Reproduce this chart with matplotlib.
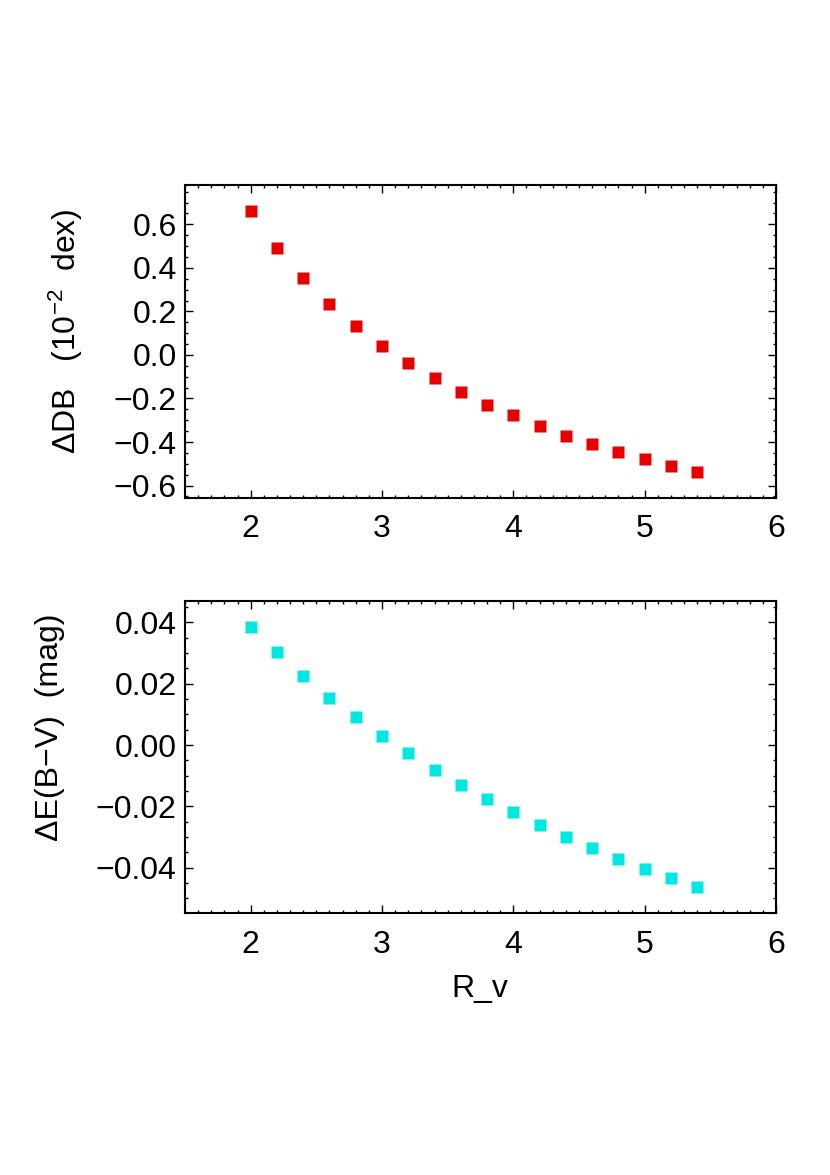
import matplotlib
matplotlib.use('Agg')
import matplotlib.pyplot as plt
import numpy as np
from matplotlib.ticker import MultipleLocator, FuncFormatter

plt.rcParams['font.family'] = ['Liberation Sans', 'DejaVu Sans']
plt.rcParams['mathtext.fontset'] = 'custom'
plt.rcParams['mathtext.rm'] = 'Liberation Sans'
plt.rcParams['mathtext.default'] = 'regular'

# data
r_v = [2.0, 2.2, 2.4, 2.6, 2.8, 3.0, 3.2, 3.4, 3.6, 3.8,
       4.0, 4.2, 4.4, 4.6, 4.8, 5.0, 5.2, 5.4]
d_db = [0.661, 0.493, 0.354, 0.234, 0.132, 0.042, -0.038, -0.108, -0.171,
        -0.228, -0.278, -0.326, -0.370, -0.409, -0.446, -0.477, -0.509, -0.536]
d_ebv = [0.0386, 0.0302, 0.0225, 0.0155, 0.0090, 0.0030, -0.0027, -0.0080,
         -0.0129, -0.0176, -0.0219, -0.0261, -0.0300, -0.0337, -0.0371,
         -0.0404, -0.0434, -0.0464]
x_ticks = [2, 3, 4, 5, 6]

FS = 23

fig = plt.figure(figsize=(8.3, 11.75), dpi=100)
ax1 = fig.add_axes([0.2229, 0.5764, 0.712, 0.2662])
ax2 = fig.add_axes([0.2229, 0.2227, 0.712, 0.2661])

def pad_range(v):
    lo, hi = min(v), max(v)
    d = 0.1 * (hi - lo)
    return lo - d, hi + d

def style(ax, ymaj, ymin_step, ndec):
    ax.set_xlim(1.5, 6.0)
    ax.set_xticks(x_ticks)
    ax.xaxis.set_minor_locator(MultipleLocator(0.1))
    ax.yaxis.set_major_locator(MultipleLocator(ymaj))
    ax.yaxis.set_minor_locator(MultipleLocator(ymin_step))
    fmt = lambda v, p: ('%.*f' % (ndec, 0.0 if abs(v) < 1e-9 else v)).replace('-', '\u2212')
    ax.yaxis.set_major_formatter(FuncFormatter(fmt))
    ax.tick_params(which='both', direction='in', top=True, right=True,
                   labelsize=FS, width=1.0, color='black')
    ax.tick_params(which='major', length=5.5)
    ax.tick_params(which='minor', length=2.5)
    ax.tick_params(axis='x', which='major', pad=12)
    ax.tick_params(axis='y', which='major', pad=6)
    for s in ax.spines.values():
        s.set_linewidth(1.5)

ax1.plot(r_v, d_db, 's', color='#e60000', markersize=9.2, mec='none')
ax1.set_ylim(*pad_range(d_db))
style(ax1, 0.2, 0.05, 1)

ax2.plot(r_v, d_ebv, 's', color='#00e8e0', markersize=9.2, mec='none')
ax2.set_ylim(*pad_range(d_ebv))
style(ax2, 0.02, 0.005, 2)

fig.text(66 / 830, 1 - 331 / 1175, 'ΔDB   (10$^{-2}$  dex)', rotation=90,
         ha='center', va='center', fontsize=FS)
fig.text(50 / 830, 1 - 727 / 1175, 'ΔE(B\u2212V)  (mag)', rotation=90,
         ha='center', va='center', fontsize=FS)
fig.text(480 / 830, 1 - 997 / 1175, 'R_v', ha='center', va='baseline',
         fontsize=FS)

fig.savefig('out.png', dpi=100)
